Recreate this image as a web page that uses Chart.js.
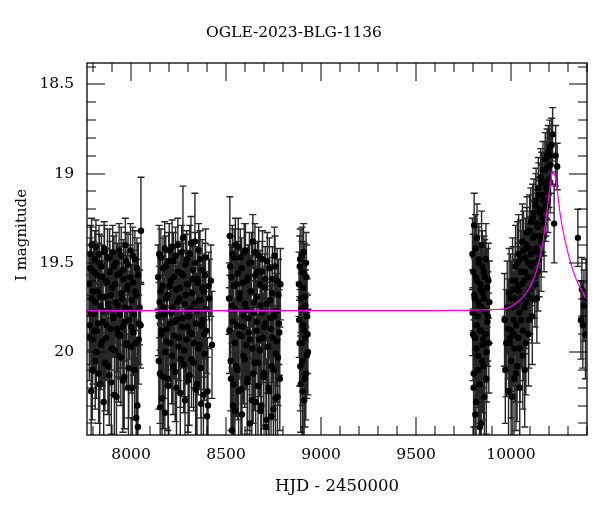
<!DOCTYPE html>
<html>
<head>
<meta charset="utf-8">
<title>OGLE-2023-BLG-1136</title>
<script src="https://cdn.jsdelivr.net/npm/chart.js@4.4.1/dist/chart.umd.min.js"></script>
<style>
  html, body { margin: 0; padding: 0; background: #fff; }
  #wrap { width: 600px; height: 512px; }
</style>
</head>
<body>
<div id="wrap"><canvas id="lightCurve" width="600" height="512"></canvas></div>
<script>
// Photometry: HJD - 2450000, I mag, 1-sigma error
const hjd = [
  // 2017 season
  7778, 7782, 7786, 7790, 7794, 7798, 7803, 7807, 7811, 7815, 7820, 7824, 7829, 7833, 7838, 7842, 7847, 7851, 7856, 7860,
  7865, 7869, 7874, 7878, 7883, 7887, 7892, 7896, 7901, 7905, 7910, 7914, 7919, 7923, 7928, 7932, 7937, 7941, 7946, 7950,
  7955, 7959, 7964, 7968, 7973, 7977, 7982, 7986, 7991, 7995, 8000, 8004, 8009, 8013, 8018, 8022, 8027, 8031, 8036, 8040,
  8045, 8050, 8052,
  // 2018 season
  8142, 8146, 8150, 8153, 8157, 8161, 8166, 8170, 8175, 8178, 8183, 8187, 8192, 8196, 8201, 8205, 8210, 8214, 8219, 8223,
  8228, 8232, 8237, 8241, 8246, 8250, 8255, 8259, 8264, 8268, 8273, 8277, 8282, 8286, 8291, 8295, 8300, 8304, 8309, 8313,
  8318, 8322, 8327, 8331, 8336, 8340, 8345, 8349, 8354, 8358, 8363, 8367, 8372, 8376, 8381, 8385, 8390, 8394, 8400, 8405,
  8412, 8420, 8426,
  // 2019 season
  8516, 8520, 8524, 8528, 8531, 8535, 8539, 8543, 8547, 8551, 8556, 8560, 8564, 8569, 8573, 8578, 8582, 8587, 8591, 8596,
  8600, 8605, 8609, 8614, 8618, 8623, 8627, 8632, 8636, 8641, 8645, 8650, 8654, 8659, 8663, 8668, 8672, 8677, 8681, 8686,
  8690, 8695, 8699, 8704, 8708, 8713, 8717, 8722, 8726, 8731, 8735, 8740, 8744, 8749, 8753, 8758, 8762, 8767, 8771, 8776,
  8780, 8786,
  // 2020
  8884, 8887, 8890, 8893, 8896, 8899, 8902, 8905, 8908, 8911, 8914, 8917, 8920, 8923, 8927, 8931,
  // 2022
  9797, 9800, 9803, 9806, 9809, 9812, 9815, 9818, 9821, 9824, 9827, 9830, 9833, 9836, 9839, 9842, 9845, 9848, 9851, 9854,
  9857, 9860, 9864, 9868, 9872, 9876, 9881, 9886,
  // 2023, the event
  9966, 9975, 9984, 9990, 9995, 10000, 10004, 10008, 10012, 10016, 10020, 10024, 10028, 10032, 10036, 10040, 10044, 10048,
  10052, 10056, 10060, 10064, 10068, 10072, 10076, 10080, 10084, 10088, 10092, 10096, 10100, 10104, 10108, 10112, 10116,
  10120, 10124, 10128, 10132, 10136, 10140, 10144, 10148, 10152, 10156, 10160, 10164, 10168, 10172, 10176, 10180, 10184,
  10188, 10192, 10196, 10200, 10204, 10208, 10214, 10219, 10227, 10235, 10243,
  // 2024
  10352, 10368, 10373, 10384, 10392
];

const imag = [
  19.62, 19.85, 19.45, 20.22, 19.70, 19.93, 19.55, 19.78, 20.05, 19.41, 19.88, 19.66, 20.12, 19.50, 19.74, 19.96, 19.58, 19.83, 20.28, 19.44,
  19.69, 19.92, 19.61, 20.08, 19.76, 19.47, 19.87, 20.17, 19.64, 19.81, 19.52, 19.99, 19.72, 20.25, 19.57, 19.90, 19.43, 19.79, 20.03, 19.67,
  19.86, 19.54, 20.14, 19.75, 19.49, 19.95, 19.63, 20.20, 19.82, 19.58, 19.97, 19.71, 19.46, 19.89, 20.10, 19.66, 20.37, 19.53, 20.42, 19.93,
  19.75, 19.85, 19.32,

  19.58, 20.05, 19.72, 20.31, 19.47, 19.88, 19.63, 20.14, 19.79, 20.34, 19.52, 19.94, 19.68, 20.19, 19.43, 19.84, 19.60, 20.02, 19.75, 19.49,
  19.91, 20.11, 19.65, 19.82, 19.40, 19.97, 19.70, 20.23, 19.56, 19.86, 19.36, 20.07, 19.73, 19.51, 19.93, 19.62, 20.16, 19.80, 19.45, 19.89,
  20.04, 19.67, 19.54, 19.95, 19.38, 20.21, 19.77, 19.59, 19.98, 19.71, 19.48, 20.09, 19.85, 19.64, 20.24, 19.90, 19.57, 19.76, 20.36, 20.30,
  19.70, 19.60, 19.96,

  19.70, 19.35, 20.05, 19.58, 20.44, 19.83, 20.18, 19.47, 20.33, 19.76, 19.62, 20.10, 19.41, 19.90, 19.67, 20.21, 19.53, 19.86, 20.02, 19.44,
  19.73, 19.96, 19.60, 20.15, 19.81, 19.50, 19.93, 19.66, 20.27, 19.38, 19.78, 20.06, 19.57, 19.88, 19.69, 20.19, 19.46, 19.99, 19.74, 20.30,
  19.55, 19.92, 20.12, 19.64, 19.84, 20.38, 19.49, 19.97, 20.22, 19.71, 19.87, 20.08, 19.59, 20.32, 19.80, 19.52, 20.01, 19.94, 20.25, 19.68,
  19.89, 19.62,

  19.62, 19.95, 19.48, 20.18, 19.76, 19.55, 20.05, 19.85, 19.44, 20.27, 19.69, 19.92, 20.12, 19.58, 19.80, 20.00,

  19.45, 19.90, 20.20, 19.29, 19.70, 20.35, 19.58, 19.98, 19.36, 19.80, 20.10, 19.50, 19.74, 20.42, 19.62, 19.88, 19.40, 20.05, 19.67, 19.93,
  19.55, 20.25, 19.77, 19.48, 20.00, 19.83, 19.60, 19.72,

  19.82, 19.95, 19.87, 19.67, 19.92, 20.05, 19.75, 19.60, 19.90, 20.15, 19.70, 19.52, 19.85, 20.08, 19.63, 19.45, 19.78, 19.98,
  19.55, 19.70, 19.38, 19.88, 19.60, 20.10, 19.47, 19.72, 19.33, 19.58, 19.90, 19.42, 19.65, 19.27, 19.52, 19.80, 19.36,
  19.22, 19.58, 19.44, 19.15, 19.70, 19.30, 19.08, 19.48, 19.20, 19.02, 19.38, 19.12, 18.98, 19.28, 19.05, 18.92, 19.18,
  18.97, 19.10, 18.88, 19.03, 18.85, 18.95, 18.84, 18.78, 19.28, 18.90, 18.96,

  19.36, 19.82, 19.65, 19.74, 19.90
];

const ierr = [
  0.18, 0.22, 0.16, 0.30, 0.20, 0.25, 0.17, 0.21, 0.27, 0.15, 0.24, 0.19, 0.28, 0.16, 0.21, 0.25, 0.18, 0.22, 0.32, 0.15,
  0.20, 0.24, 0.18, 0.27, 0.21, 0.16, 0.23, 0.29, 0.19, 0.22, 0.17, 0.26, 0.20, 0.31, 0.18, 0.24, 0.15, 0.21, 0.27, 0.19,
  0.23, 0.17, 0.29, 0.21, 0.16, 0.25, 0.19, 0.30, 0.22, 0.18, 0.26, 0.20, 0.16, 0.24, 0.28, 0.19, 0.34, 0.17, 0.36, 0.25,
  0.21, 0.24, 0.30,

  0.18, 0.27, 0.20, 0.32, 0.16, 0.24, 0.19, 0.29, 0.21, 0.33, 0.17, 0.25, 0.20, 0.30, 0.15, 0.23, 0.18, 0.27, 0.21, 0.16,
  0.24, 0.28, 0.19, 0.22, 0.15, 0.26, 0.20, 0.31, 0.17, 0.23, 0.29, 0.27, 0.21, 0.17, 0.25, 0.19, 0.29, 0.22, 0.16, 0.24,
  0.27, 0.20, 0.17, 0.25, 0.27, 0.30, 0.21, 0.18, 0.26, 0.20, 0.16, 0.28, 0.23, 0.19, 0.31, 0.24, 0.18, 0.21, 0.33, 0.32,
  0.22, 0.20, 0.30,

  0.20, 0.22, 0.28, 0.18, 0.35, 0.23, 0.30, 0.16, 0.33, 0.21, 0.19, 0.28, 0.16, 0.24, 0.20, 0.30, 0.17, 0.23, 0.27, 0.16,
  0.21, 0.25, 0.18, 0.29, 0.22, 0.17, 0.25, 0.20, 0.32, 0.15, 0.21, 0.27, 0.18, 0.24, 0.20, 0.30, 0.16, 0.26, 0.21, 0.33,
  0.17, 0.25, 0.29, 0.19, 0.23, 0.34, 0.16, 0.26, 0.31, 0.20, 0.24, 0.28, 0.18, 0.33, 0.22, 0.17, 0.27, 0.25, 0.32, 0.20,
  0.24, 0.20,

  0.18, 0.24, 0.17, 0.27, 0.20, 0.17, 0.25, 0.22, 0.16, 0.29, 0.19, 0.23, 0.26, 0.18, 0.21, 0.24,

  0.20, 0.26, 0.32, 0.18, 0.22, 0.36, 0.20, 0.28, 0.19, 0.24, 0.30, 0.20, 0.23, 0.38, 0.21, 0.26, 0.19, 0.29, 0.22, 0.27,
  0.20, 0.33, 0.24, 0.20, 0.28, 0.25, 0.21, 0.23,

  0.26, 0.30, 0.28, 0.25, 0.30, 0.32, 0.26, 0.24, 0.29, 0.33, 0.25, 0.23, 0.28, 0.31, 0.24, 0.22, 0.27, 0.30,
  0.23, 0.25, 0.21, 0.28, 0.24, 0.32, 0.22, 0.26, 0.20, 0.23, 0.29, 0.21, 0.25, 0.19, 0.22, 0.27, 0.20,
  0.19, 0.23, 0.21, 0.18, 0.25, 0.19, 0.17, 0.21, 0.18, 0.16, 0.20, 0.17, 0.16, 0.18, 0.16, 0.15, 0.17,
  0.15, 0.16, 0.15, 0.16, 0.15, 0.16, 0.15, 0.15, 0.22, 0.17, 0.13,

  0.16, 0.22, 0.18, 0.20, 0.25
];

// second exposure of most nights
const hjd2 = [
  7780, 7784, 7788, 7792, 7796, 7800, 7805, 7809, 7813, 7817, 7822, 7826, 7831, 7835, 7840, 7844, 7849, 7853, 7858, 7862,
  7867, 7871, 7876, 7880, 7885, 7889, 7894, 7898, 7903, 7907, 7912, 7916, 7921, 7925, 7930, 7934, 7939, 7943, 7948, 7952,
  7957, 7961, 7966, 7970, 7975, 7979, 7984, 7988, 7993, 7997, 8002, 8006, 8011, 8015, 8020, 8024, 8029, 8033, 8038, 8042,

  8144, 8148, 8152, 8155, 8159, 8163, 8168, 8172, 8177, 8180, 8185, 8189, 8194, 8198, 8203, 8207, 8212, 8216, 8221, 8225,
  8230, 8234, 8239, 8243, 8248, 8252, 8257, 8261, 8266, 8270, 8275, 8279, 8284, 8288, 8293, 8297, 8302, 8306, 8311, 8315,
  8320, 8324, 8329, 8333, 8338, 8342, 8347, 8351, 8356, 8360, 8365, 8369, 8374, 8378, 8383, 8387, 8392, 8396, 8402, 8408,

  8518, 8522, 8526, 8530, 8533, 8537, 8541, 8545, 8549, 8553, 8558, 8562, 8566, 8571, 8575, 8580, 8584, 8589, 8593, 8598,
  8602, 8607, 8611, 8616, 8620, 8625, 8629, 8634, 8638, 8643, 8647, 8652, 8656, 8661, 8665, 8670, 8674, 8679, 8683, 8688,
  8692, 8697, 8701, 8706, 8710, 8715, 8719, 8724, 8728, 8733, 8737, 8742, 8746, 8751, 8755, 8760, 8764, 8769, 8773, 8778,
  8783,

  8885, 8888, 8891, 8894, 8897, 8900, 8903, 8906, 8909, 8912, 8915, 8918, 8921, 8925, 8929,

  9798, 9801, 9804, 9807, 9810, 9813, 9816, 9819, 9822, 9825, 9828, 9831, 9834, 9837, 9840, 9843, 9846, 9849, 9852, 9855,
  9858, 9862, 9866, 9870, 9874, 9878, 9883,

  9970, 9980, 9987, 9993, 9998, 10002, 10006, 10010, 10014, 10018, 10022, 10026, 10030, 10034, 10038, 10042, 10046, 10050,
  10054, 10058, 10062, 10066, 10070, 10074, 10078, 10082, 10086, 10090, 10094, 10098, 10102, 10106, 10110, 10114, 10118,
  10122, 10126, 10130, 10134, 10138, 10142, 10146, 10150, 10154, 10158, 10162, 10166, 10170, 10174, 10178, 10182, 10186,
  10190, 10194, 10198, 10202, 10206,

  10378, 10395
];

const imag2 = [
  19.92, 19.53, 19.78, 19.40, 20.10, 19.66, 19.88, 19.48, 19.72, 20.00, 19.57, 19.84, 19.45, 20.18, 19.69, 19.52, 19.94, 19.77, 19.42, 20.06,
  19.60, 19.85, 19.47, 19.73, 20.13, 19.55, 19.68, 19.98, 19.44, 19.80, 20.24, 19.62, 19.50, 19.87, 19.74, 20.02, 19.56, 19.91, 19.46, 19.70,
  20.16, 19.59, 19.83, 19.40, 19.96, 19.65, 19.51, 20.09, 19.76, 19.43, 19.86, 20.20, 19.61, 19.79, 19.48, 19.95, 19.68, 20.30, 19.57, 19.84,

  19.80, 19.45, 20.12, 19.66, 19.90, 20.26, 19.53, 19.75, 19.42, 20.00, 19.70, 19.87, 20.15, 19.49, 19.63, 19.95, 19.78, 19.41, 20.08, 19.58,
  19.83, 19.46, 20.20, 19.72, 19.55, 19.92, 19.64, 20.04, 19.44, 19.81, 19.57, 19.99, 20.27, 19.68, 19.48, 19.86, 19.62, 20.13, 19.76, 19.39,
  19.90, 19.59, 20.06, 19.73, 19.50, 19.84, 20.18, 19.61, 19.43, 19.96, 19.71, 20.29, 19.54, 19.82, 19.66, 20.01, 19.47, 19.88, 20.22, 19.63,

  19.88, 19.52, 20.15, 19.74, 19.45, 20.30, 19.63, 19.95, 19.40, 20.08, 19.85, 19.56, 20.22, 19.70, 19.47, 19.91, 20.35, 19.61, 19.80, 20.04,
  19.43, 19.76, 20.17, 19.58, 19.89, 20.40, 19.66, 19.50, 19.98, 20.12, 19.72, 19.44, 20.28, 19.83, 19.55, 20.06, 19.93, 19.62, 20.33, 19.78,
  19.48, 20.14, 19.86, 19.59, 20.42, 19.73, 19.97, 20.20, 19.53, 19.81, 20.36, 19.67, 19.92, 20.10, 19.46, 20.26, 19.77, 19.60, 20.03, 19.84,
  20.15,

  19.82, 19.52, 20.08, 19.70, 19.95, 19.46, 20.22, 19.64, 19.88, 19.56, 20.15, 19.74, 19.50, 20.02, 19.90,

  19.78, 19.55, 20.12, 19.68, 19.92, 19.42, 20.28, 19.85, 19.60, 20.02, 19.72, 19.48, 20.18, 19.88, 19.65, 20.40, 19.75, 19.52, 19.96, 20.08,
  19.70, 19.58, 19.90, 20.15, 19.64, 19.80, 19.95,

  20.10, 19.75, 20.22, 19.95, 19.70, 19.88, 20.25, 19.65, 19.82, 19.98, 19.60, 20.12, 19.74, 19.50, 19.92, 19.66, 20.20, 19.48,
  19.82, 19.62, 20.02, 19.43, 19.75, 19.55, 19.95, 19.40, 19.68, 19.50, 19.82, 19.32, 19.58, 19.45, 19.70, 19.25, 19.50,
  19.35, 19.62, 19.18, 19.42, 19.28, 19.55, 19.12, 19.35, 19.22, 19.45, 19.05, 19.25, 19.15, 19.35, 18.98, 19.20, 19.08,
  18.90, 19.15, 18.96, 18.90, 19.05,

  19.85, 19.70
];

const ierr2 = [
  0.24, 0.17, 0.21, 0.15, 0.28, 0.19, 0.23, 0.16, 0.20, 0.26, 0.18, 0.22, 0.16, 0.29, 0.20, 0.17, 0.25, 0.21, 0.15, 0.27,
  0.18, 0.23, 0.16, 0.20, 0.28, 0.17, 0.19, 0.26, 0.15, 0.22, 0.31, 0.18, 0.17, 0.24, 0.21, 0.26, 0.17, 0.24, 0.16, 0.20,
  0.29, 0.18, 0.22, 0.15, 0.25, 0.19, 0.17, 0.28, 0.21, 0.15, 0.23, 0.30, 0.18, 0.22, 0.16, 0.25, 0.20, 0.33, 0.18, 0.23,

  0.22, 0.16, 0.28, 0.19, 0.24, 0.31, 0.17, 0.21, 0.15, 0.26, 0.20, 0.23, 0.29, 0.16, 0.19, 0.25, 0.21, 0.15, 0.27, 0.18,
  0.22, 0.16, 0.30, 0.20, 0.17, 0.24, 0.19, 0.27, 0.15, 0.22, 0.18, 0.26, 0.32, 0.20, 0.16, 0.23, 0.19, 0.28, 0.21, 0.15,
  0.24, 0.18, 0.27, 0.20, 0.17, 0.23, 0.29, 0.19, 0.15, 0.25, 0.20, 0.33, 0.17, 0.22, 0.19, 0.26, 0.16, 0.24, 0.30, 0.19,

  0.24, 0.17, 0.29, 0.21, 0.16, 0.33, 0.19, 0.25, 0.15, 0.28, 0.23, 0.18, 0.31, 0.20, 0.16, 0.24, 0.35, 0.19, 0.22, 0.27,
  0.15, 0.21, 0.29, 0.18, 0.24, 0.36, 0.20, 0.17, 0.26, 0.28, 0.20, 0.16, 0.32, 0.23, 0.17, 0.27, 0.25, 0.19, 0.34, 0.22,
  0.16, 0.29, 0.24, 0.18, 0.37, 0.21, 0.26, 0.30, 0.17, 0.22, 0.35, 0.20, 0.25, 0.28, 0.16, 0.32, 0.21, 0.18, 0.27, 0.23,
  0.29,

  0.21, 0.17, 0.25, 0.19, 0.23, 0.16, 0.28, 0.19, 0.22, 0.17, 0.27, 0.20, 0.17, 0.24, 0.22,

  0.24, 0.21, 0.30, 0.22, 0.27, 0.19, 0.34, 0.25, 0.21, 0.29, 0.23, 0.20, 0.32, 0.26, 0.22, 0.37, 0.24, 0.20, 0.28, 0.30,
  0.23, 0.21, 0.27, 0.31, 0.22, 0.25, 0.28,

  0.30, 0.26, 0.33, 0.29, 0.25, 0.28, 0.33, 0.24, 0.27, 0.30, 0.24, 0.32, 0.26, 0.23, 0.29, 0.25, 0.32, 0.22,
  0.27, 0.24, 0.30, 0.22, 0.26, 0.23, 0.29, 0.21, 0.25, 0.22, 0.27, 0.20, 0.23, 0.21, 0.25, 0.19, 0.22,
  0.20, 0.24, 0.18, 0.21, 0.19, 0.22, 0.18, 0.20, 0.18, 0.21, 0.17, 0.19, 0.18, 0.20, 0.16, 0.18, 0.17,
  0.15, 0.18, 0.16, 0.15, 0.17,

  0.24, 0.22
];

// Microlensing model curve
const modelHjd = [7768, 8500, 9000, 9500, 9700, 9800, 9900, 9977, 10047, 10100, 10135, 10161, 10179, 10196,
  10210, 10219, 10231, 10243, 10261, 10284, 10310, 10345, 10400];
const modelMag = [19.768, 19.768, 19.768, 19.768, 19.767, 19.765, 19.762, 19.755, 19.709, 19.634, 19.541, 19.429, 19.299, 19.149,
  19.037, 18.991, 19.009, 19.093, 19.243, 19.373, 19.485, 19.597, 19.712];

// Axis ticks
const xTicks = [8000, 8500, 9000, 9500, 10000];
const yTicks = [18.5, 19, 19.5, 20];

const FONT = "'DejaVu Serif', 'Liberation Serif', serif";

document.addEventListener('DOMContentLoaded', () => {

    const allT = hjd.concat(hjd2);
    const allM = imag.concat(imag2);
    const allE = ierr.concat(ierr2);

    // error bars, under the points
    const errorBars = {
        id: 'errorBars',
        beforeDatasetsDraw(chart) {
            const { ctx, chartArea: a, scales: { x, y } } = chart;
            ctx.save();
            ctx.beginPath();
            ctx.rect(a.left, a.top, a.right - a.left, a.bottom - a.top);
            ctx.clip();
            ctx.strokeStyle = 'rgba(0, 0, 0, 0.85)';
            ctx.lineWidth = 1.4;
            ctx.beginPath();
            allT.forEach((t, i) => {
                const px = x.getPixelForValue(t);
                const y1 = y.getPixelForValue(allM[i] - allE[i]);
                const y2 = y.getPixelForValue(allM[i] + allE[i]);
                ctx.moveTo(px, y1); ctx.lineTo(px, y2);
                ctx.moveTo(px - 3.5, y1); ctx.lineTo(px + 3.5, y1);
                ctx.moveTo(px - 3.5, y2); ctx.lineTo(px + 3.5, y2);
            });
            ctx.stroke();
            ctx.restore();
        }
    };

    // box with inward major/minor ticks on all four sides, plus the titles
    const frame = {
        id: 'frame',
        afterDraw(chart) {
            const { ctx, chartArea: a, scales: { x, y } } = chart;
            ctx.save();
            ctx.strokeStyle = '#000';
            ctx.lineWidth = 1;
            ctx.beginPath();
            for (let v = 7800; v <= x.max; v += 100) {
                const px = Math.round(x.getPixelForValue(v));
                const len = v % 500 === 0 ? 18 : 9;
                ctx.moveTo(px, a.bottom); ctx.lineTo(px, a.bottom - len);
                ctx.moveTo(px, a.top); ctx.lineTo(px, a.top + len);
            }
            for (let k = 184; k <= 204; k++) {
                const py = Math.round(y.getPixelForValue(k / 10));
                const len = k % 5 === 0 ? 18 : 9;
                ctx.moveTo(a.left, py); ctx.lineTo(a.left + len, py);
                ctx.moveTo(a.right, py); ctx.lineTo(a.right - len, py);
            }
            ctx.stroke();
            ctx.lineWidth = 1.3;
            ctx.strokeRect(a.left, a.top, a.right - a.left, a.bottom - a.top);

            ctx.fillStyle = '#000';
            ctx.textAlign = 'center';
            ctx.textBaseline = 'middle';
            ctx.font = "15.5px " + FONT;
            ctx.fillText('OGLE-2023-BLG-1136', 294, 33);

            ctx.translate(22, 235);
            ctx.rotate(-Math.PI / 2);
            ctx.font = "15px " + FONT;
            ctx.fillText('I magnitude', 0, 0);
            ctx.restore();
        }
    };

    const ctx = document.getElementById('lightCurve').getContext('2d');
    new Chart(ctx, {
        type: 'scatter',
        data: {
            datasets: [
                {
                    type: 'line',
                    label: 'model',
                    data: modelHjd.map((t, i) => ({ x: t, y: modelMag[i] })),
                    borderColor: '#ff00ff',
                    borderWidth: 1.2,
                    pointRadius: 0,
                    tension: 0.35,
                    fill: false,
                    order: 0
                },
                {
                    label: 'OGLE I',
                    data: allT.map((t, i) => ({ x: t, y: allM[i] })),
                    backgroundColor: '#000',
                    borderWidth: 0,
                    pointRadius: 3.2,
                    order: 1
                }
            ]
        },
        options: {
            responsive: false,
            animation: false,
            layout: { padding: { top: 63, right: 13, left: 0, bottom: 0 } },
            plugins: {
                legend: { display: false },
                tooltip: { enabled: false }
            },
            scales: {
                x: {
                    type: 'linear',
                    min: 7768,
                    max: 10400,
                    grid: { display: false, drawTicks: false },
                    border: { display: false },
                    afterBuildTicks: s => { s.ticks = xTicks.map(v => ({ value: v })); },
                    afterFit: s => { s.height = 77; },
                    ticks: {
                        color: '#000',
                        padding: 11,
                        maxRotation: 0,
                        font: { family: FONT, size: 15.5 },
                        callback: v => String(v)
                    },
                    title: {
                        display: true,
                        text: 'HJD - 2450000',
                        color: '#000',
                        font: { family: FONT, size: 16.5 },
                        padding: { top: 0, bottom: 15 }
                    }
                },
                y: {
                    type: 'linear',
                    reverse: true,
                    min: 18.38,
                    max: 20.465,
                    grid: { display: false, drawTicks: false },
                    border: { display: false },
                    afterBuildTicks: s => { s.ticks = yTicks.map(v => ({ value: v })); },
                    afterFit: s => { s.width = 87; },
                    ticks: {
                        color: '#000',
                        padding: 13,
                        font: { family: FONT, size: 15.5 },
                        callback: v => String(v)
                    }
                }
            }
        },
        plugins: [errorBars, frame]
    });

});
</script>
</body>
</html>
